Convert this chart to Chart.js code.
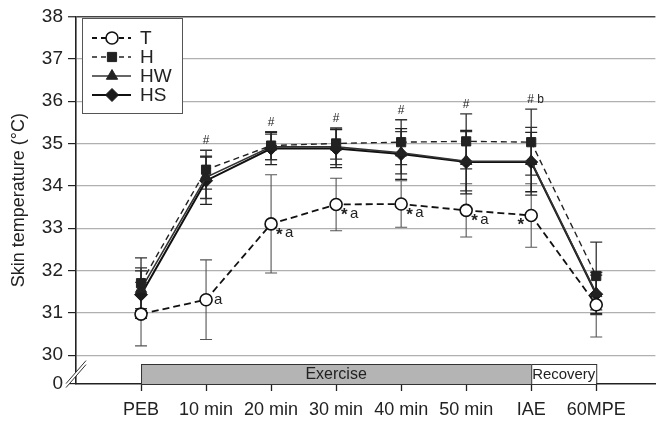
<!DOCTYPE html>
<html>
<head>
<meta charset="utf-8">
<script src="https://cdn.jsdelivr.net/npm/chart.js@4.4.1/dist/chart.umd.min.js"></script>
<style>
html,body{margin:0;padding:0;background:#fff;}
#wrap{width:663px;height:421px;position:relative;}
</style>
</head>
<body>
<div id="wrap"><canvas id="c" width="663" height="421"></canvas></div>
<script>
// ---- data ----
const categories = ['PEB','10 min','20 min','30 min','40 min','50 min','IAE','60MPE'];
const seriesNames = ['T','H','HW','HS'];
const T_mean  = [30.97, 31.31, 33.10, 33.56, 33.57, 33.42, 33.30, 31.19];
const T_sd    = [0.75, 0.94, 1.16, 0.62, 0.55, 0.63, 0.75, 0.76];
const H_mean  = [31.70, 34.38, 34.95, 35.00, 35.03, 35.05, 35.03, 31.87];
const H_sd    = [0.60, 0.46, 0.33, 0.37, 0.53, 0.65, 0.78, 0.80];
const HW_mean = [31.56, 34.20, 34.92, 34.92, 34.78, 34.58, 34.58, 31.46];
const HW_sd   = [0.50, 0.50, 0.30, 0.42, 0.50, 0.70, 0.80, 0.50];
const HS_mean = [31.43, 34.12, 34.88, 34.88, 34.75, 34.56, 34.56, 31.44];
const HS_sd   = [0.56, 0.56, 0.38, 0.45, 0.60, 0.75, 0.70, 0.45];
const yTickValues = [30, 31, 32, 33, 34, 35, 36, 37, 38];
const yBreakValue = 29.32;          // position standing for "0" below the axis break
const yBreakLabel = '0';
const hashNotes = ['', '#', '#', '#', '#', '#', '# b', ''];
const tNotes    = ['', 'a', '*a', '*a', '*a', '*a', '*', ''];
const phaseExercise = {label: 'Exercise', from: 0, to: 6};
const phaseRecovery = {label: 'Recovery', from: 6, to: 7};

const FONT = '"Liberation Sans", Arial, sans-serif';
const toPts = arr => arr.map((v, i) => ({x: i, y: v}));

const datasets = [
  {label: 'T', data: toPts(T_mean), sd: T_sd, borderColor: '#111', borderWidth: 1.8, borderDash: [7,4],
   pointStyle: 'circle', pointRadius: 6, pointBackgroundColor: '#fff', pointBorderColor: '#111', pointBorderWidth: 1.6,
   errColor: '#555', errWidth: 1.1},
  {label: 'H', data: toPts(H_mean), sd: H_sd, borderColor: '#222', borderWidth: 1.4, borderDash: [6,4],
   pointStyle: 'rect', pointRadius: 6.5, pointBackgroundColor: '#222', pointBorderColor: '#222', pointBorderWidth: 1,
   errColor: '#333', errWidth: 1.3},
  {label: 'HW', data: toPts(HW_mean), sd: HW_sd, borderColor: '#333', borderWidth: 1.6, borderDash: [],
   pointStyle: 'triangle', pointRadius: 6.5, pointBackgroundColor: '#222', pointBorderColor: '#222', pointBorderWidth: 1,
   errColor: '#333', errWidth: 1.3},
  {label: 'HS', data: toPts(HS_mean), sd: HS_sd, borderColor: '#111', borderWidth: 2, borderDash: [],
   pointStyle: 'rectRot', pointRadius: 6.5, pointBackgroundColor: '#1a1a1a', pointBorderColor: '#1a1a1a', pointBorderWidth: 1,
   errColor: '#222', errWidth: 1.3}
].map(d => Object.assign({fill: false, tension: 0}, d));

// ---- plugins ----
const errorBars = {
  id: 'errorBars',
  beforeDatasetsDraw(chart) {
    const {ctx, scales: {x, y}} = chart;
    ctx.save();
    chart.data.datasets.forEach(ds => {
      ctx.strokeStyle = ds.errColor; ctx.lineWidth = ds.errWidth; ctx.setLineDash([]);
      ds.data.forEach((p, i) => {
        const px = x.getPixelForValue(p.x);
        const top = y.getPixelForValue(p.y + ds.sd[i]);
        const bot = y.getPixelForValue(p.y - ds.sd[i]);
        ctx.beginPath();
        ctx.moveTo(px, top); ctx.lineTo(px, bot);
        ctx.moveTo(px - 6, top); ctx.lineTo(px + 6, top);
        ctx.moveTo(px - 6, bot); ctx.lineTo(px + 6, bot);
        ctx.stroke();
      });
    });
    ctx.restore();
  }
};

const decorations = {
  id: 'decorations',
  beforeDraw(chart) {
    const {ctx} = chart;
    ctx.save();
    ctx.fillStyle = '#fff'; ctx.fillRect(0, 0, chart.width, chart.height);
    ctx.restore();
  },
  afterDatasetsDraw(chart) {
    const {ctx, chartArea, scales: {x, y}} = chart;
    ctx.save();
    // phase bars
    const yb = y.getPixelForValue(yBreakValue);
    const barH = 20;
    const ex0 = x.getPixelForValue(phaseExercise.from), ex1 = x.getPixelForValue(phaseExercise.to);
    ctx.fillStyle = '#b4b4b4'; ctx.strokeStyle = '#333'; ctx.lineWidth = 1;
    ctx.fillRect(ex0, yb - barH, ex1 - ex0, barH);
    ctx.strokeRect(ex0 + 0.5, yb - barH + 0.5, ex1 - ex0, barH);
    const rc0 = x.getPixelForValue(phaseRecovery.from), rc1 = x.getPixelForValue(phaseRecovery.to);
    ctx.fillStyle = '#fff';
    ctx.fillRect(rc0, yb - barH, rc1 - rc0, barH);
    ctx.strokeRect(rc0 + 0.5, yb - barH + 0.5, rc1 - rc0, barH);
    ctx.fillStyle = '#222'; ctx.textAlign = 'center'; ctx.textBaseline = 'middle';
    ctx.font = '16px ' + FONT;
    ctx.fillText(phaseExercise.label, (ex0 + ex1) / 2, yb - barH / 2 + 1);
    ctx.font = '15px ' + FONT;
    ctx.fillText(phaseRecovery.label, (rc0 + rc1) / 2, yb - barH / 2 + 1, rc1 - rc0 - 2);

    // axis break marks
    const ax = chartArea.left;
    const yBreak = (y.getPixelForValue(30) + yb) / 2 + 2;
    ctx.fillStyle = '#fff';
    ctx.beginPath();
    ctx.moveTo(ax - 9, yBreak + 11); ctx.lineTo(ax + 10, yBreak - 11);
    ctx.lineTo(ax + 10, yBreak - 7); ctx.lineTo(ax - 9, yBreak + 15); ctx.closePath(); ctx.fill();
    ctx.strokeStyle = '#333'; ctx.lineWidth = 1;
    ctx.beginPath();
    ctx.moveTo(ax - 10, yBreak + 12); ctx.lineTo(ax + 10, yBreak - 11);
    ctx.moveTo(ax - 10, yBreak + 16); ctx.lineTo(ax + 10, yBreak - 7);
    ctx.stroke();

    // significance notes
    const hs = chart.data.datasets.slice(1);
    ctx.fillStyle = '#222'; ctx.font = '12px ' + FONT; ctx.textAlign = 'center'; ctx.textBaseline = 'alphabetic';
    hashNotes.forEach((t, i) => {
      if (!t) return;
      const topVal = Math.max(...hs.map(d => d.data[i].y + d.sd[i]));
      const px = x.getPixelForValue(i), py = y.getPixelForValue(topVal) - 6;
      if (t.length > 1) { ctx.textAlign = 'left'; ctx.fillText(t, px - 4, py); ctx.textAlign = 'center'; }
      else ctx.fillText(t, px, py);
    });
    ctx.font = '15px ' + FONT; ctx.textBaseline = 'middle';
    tNotes.forEach((t, i) => {
      if (!t) return;
      const px = x.getPixelForValue(i), py = y.getPixelForValue(T_mean[i]);
      if (t === 'a') { ctx.textAlign = 'left'; ctx.fillText('a', px + 8, py); }
      else if (t === '*') { ctx.textAlign = 'right'; ctx.font = 'bold 17px ' + FONT; ctx.fillText('*', px - 7, py + 10); ctx.font = '15px ' + FONT; }
      else {
        ctx.textAlign = 'left';
        ctx.font = 'bold 17px ' + FONT; ctx.fillText('*', px + 5, py + 11);
        ctx.font = '15px ' + FONT; ctx.fillText('a', px + 14, py + 9);
      }
    });

    // legend
    const L = {x: 82, y: 18, w: 100, h: 95};
    ctx.fillStyle = '#fff'; ctx.fillRect(L.x, L.y, L.w, L.h);
    ctx.strokeStyle = '#555'; ctx.lineWidth = 1; ctx.setLineDash([]);
    ctx.strokeRect(L.x + 0.5, L.y + 0.5, L.w, L.h);
    const rowsY = [38, 57, 76, 95];
    chart.data.datasets.forEach((ds, k) => {
      const ry = rowsY[k];
      ctx.strokeStyle = ds.borderColor; ctx.lineWidth = ds.borderWidth;
      ctx.setLineDash(ds.borderDash && ds.borderDash.length ? [5, 4] : []);
      ctx.beginPath(); ctx.moveTo(92, ry); ctx.lineTo(131, ry); ctx.stroke();
      ctx.setLineDash([]);
      ctx.fillStyle = ds.pointBackgroundColor; ctx.strokeStyle = ds.pointBorderColor; ctx.lineWidth = ds.pointBorderWidth;
      Chart.helpers.drawPoint(ctx, {pointStyle: ds.pointStyle, radius: ds.pointRadius, borderWidth: ds.pointBorderWidth, rotation: 0}, 112, ry);
      ctx.fillStyle = '#222'; ctx.font = '19px ' + FONT; ctx.textAlign = 'left'; ctx.textBaseline = 'middle';
      ctx.fillText(ds.label, 140, ry + 1);
    });
    ctx.restore();
  }
};

new Chart(document.getElementById('c'), {
  type: 'line',
  data: {datasets},
  plugins: [errorBars, decorations],
  options: {
    responsive: false,
    animation: false,
    layout: {padding: {top: 13, right: 0, left: 0, bottom: 0}},
    plugins: {legend: {display: false}, tooltip: {enabled: false}},
    scales: {
      x: {
        type: 'linear', min: -1, max: 7.91,
        afterBuildTicks: s => { s.ticks = categories.map((c, i) => ({value: i})); },
        afterFit: s => { s.height = 37; },
        ticks: {callback: v => categories[v], font: {family: FONT, size: 18}, color: '#222', padding: 8, maxRotation: 0, autoSkip: false},
        grid: {drawOnChartArea: false, drawTicks: true, tickLength: 7, tickColor: '#222', tickWidth: 1.3},
        border: {color: '#222', width: 1.6}
      },
      y: {
        type: 'linear', min: yBreakValue, max: 38,
        afterBuildTicks: s => { s.ticks = [yBreakValue, ...yTickValues].map(v => ({value: v})); },
        afterFit: s => { s.width = 76; },
        ticks: {callback: v => (Math.abs(v - yBreakValue) < 0.01 ? yBreakLabel : String(v)),
                font: {family: FONT, size: 19}, color: '#222', padding: 5},
        grid: {color: ctx => (ctx.tick && ctx.tick.value === 38 ? '#444' : (ctx.tick && ctx.tick.value < 29.9 ? 'rgba(0,0,0,0)' : '#b0b0b0')),
               lineWidth: ctx => (ctx.tick && ctx.tick.value === 38 ? 1.5 : 1.2),
               tickColor: '#222', tickLength: 8, tickWidth: 1.2},
        border: {color: '#222', width: 1.6},
        title: {display: true, text: 'Skin temperature (°C)', font: {family: FONT, size: 18}, color: '#222', padding: {top: 8, bottom: 0}}
      }
    }
  }
});
</script>
</body>
</html>
